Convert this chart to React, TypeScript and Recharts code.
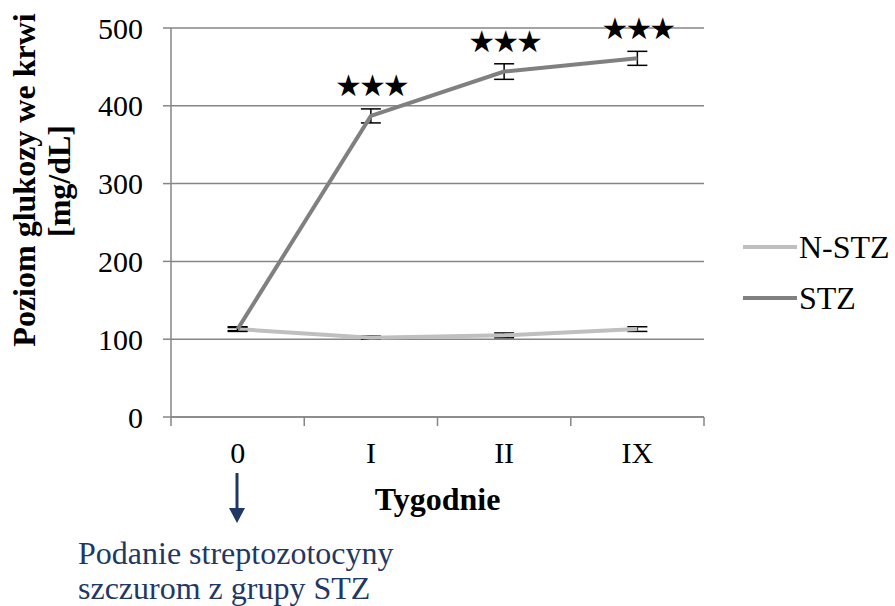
import React from 'react';
import { LineChart, Line, XAxis, YAxis, CartesianGrid, ErrorBar, LabelList } from 'recharts';

// weeks after streptozotocin injection
const weeks = ['0', 'I', 'II', 'IX'];

// blood glucose, mg/dL (mean ± SEM)
const nstzValues = [113, 102, 105, 113];
const nstzErrors = [2, 2, 3, 3];
const stzValues = [113, 387, 444, 461];
const stzErrors = [3, 9, 10, 9];
const significance = ['', '★★★', '★★★', '★★★'];

const yTicks = [0, 100, 200, 300, 400, 500];

const series = [
  { key: 'nstz', name: 'N-STZ', color: '#bfbfbf' },
  { key: 'stz', name: 'STZ', color: '#808080' },
];

const data = weeks.map((w, i) => ({
  week: w,
  pos: i + 0.5,
  nstz: nstzValues[i],
  nstzErr: nstzErrors[i],
  stz: stzValues[i],
  stzErr: stzErrors[i],
  sig: significance[i],
}));

// ticks at category borders (integers) and labels at category centres (halves)
const xTicks = weeks.flatMap((_, i) => [i, i + 0.5]).concat([weeks.length]);

const SERIF = '"Liberation Serif", "Times New Roman", serif';
const AXIS = '#868686';
const NAVY = '#1f3864';

const WeekTick = (props: any) => {
  const { x, y, payload } = props;
  const v = payload.value;
  if (Number.isInteger(v)) {
    return <line x1={x} x2={x} y1={y} y2={y + 9} stroke={AXIS} strokeWidth={1.5} />;
  }
  return (
    <text x={x} y={y + 46} textAnchor="middle" fontFamily={SERIF} fontSize={30} fill="#000">
      {weeks[Math.floor(v)]}
    </text>
  );
};

const Stars = (props: any) => {
  const { x, y, value } = props;
  if (!value) return null;
  return (
    <text x={x} y={y - 30} textAnchor="middle" dominantBaseline="central" letterSpacing={-3}
      fontFamily='"DejaVu Sans", sans-serif' fontSize={30} fill="#000">
      {value}
    </text>
  );
};

const YTitle = () => (
  <g fontFamily={SERIF} fontWeight="bold" fontSize={32} fill="#000">
    <text x={35} y={180} textAnchor="middle" transform="rotate(-90, 35, 180)">Poziom glukozy we krwi</text>
    <text x={70} y={181} textAnchor="middle" transform="rotate(-90, 70, 181)">[mg/dL]</text>
  </g>
);

const XTitle = (props: any) => {
  const { viewBox } = props;
  const cx = viewBox.x + viewBox.width / 2;
  return (
    <text x={cx} y={510} textAnchor="middle" fontFamily={SERIF} fontWeight="bold" fontSize={32} fill="#000">
      Tygodnie
    </text>
  );
};

export default function App() {
  return (
    <div style={{ position: 'absolute', left: 0, top: 0, width: 895, height: 606, background: '#fff' }}>
      <LineChart width={895} height={606} data={data} margin={{ top: 28, right: 191, bottom: 0, left: 0 }}>
        <CartesianGrid vertical={false} stroke={AXIS} strokeWidth={1.5} />
        <XAxis
          dataKey="pos"
          type="number"
          domain={[0, weeks.length]}
          ticks={xTicks}
          interval={0}
          height={189}
          tickSize={0}
          tickMargin={0}
          tickLine={false}
          axisLine={{ stroke: AXIS, strokeWidth: 1.5 }}
          tick={<WeekTick />}
          label={<XTitle />}
        />
        <YAxis
          domain={[0, 500]}
          ticks={yTicks}
          width={171}
          tickSize={8}
          tickMargin={20}
          axisLine={{ stroke: AXIS, strokeWidth: 1.5 }}
          tickLine={{ stroke: AXIS, strokeWidth: 1.5 }}
          tick={{ fontFamily: SERIF, fontSize: 30, fill: '#000' }}
          label={<YTitle />}
        />
        <Line dataKey="nstz" name="N-STZ" stroke={series[0].color} strokeWidth={4} dot={false} isAnimationActive={false}>
          <ErrorBar dataKey="nstzErr" width={10} stroke="#000" strokeWidth={1.5} direction="y" />
        </Line>
        <Line dataKey="stz" name="STZ" stroke={series[1].color} strokeWidth={4} dot={false} isAnimationActive={false}>
          <ErrorBar dataKey="stzErr" width={10} stroke="#000" strokeWidth={1.5} direction="y" />
          <LabelList dataKey="sig" content={<Stars />} />
        </Line>
      </LineChart>

      {/* legend and injection note */}
      <svg width={895} height={606} style={{ position: 'absolute', left: 0, top: 0, pointerEvents: 'none' }}>
        {series.map((s, i) => {
          const cy = 247 + i * 51;
          return (
            <g key={s.key}>
              <line x1={743} x2={797} y1={cy} y2={cy} stroke={s.color} strokeWidth={4} />
              <text x={799} y={cy + 11} fontFamily={SERIF} fontSize={32} fill="#000">{s.name}</text>
            </g>
          );
        })}

        <line x1={237} x2={237} y1={473} y2={510} stroke={NAVY} strokeWidth={3} />
        <polygon points="229,508 245,508 237,523" fill={NAVY} />
        <g fontFamily={SERIF} fontSize={32} fill={NAVY}>
          <text x={78} y={564}>Podanie streptozotocyny</text>
          <text x={78} y={599}>szczurom z grupy STZ</text>
        </g>
      </svg>
    </div>
  );
}
